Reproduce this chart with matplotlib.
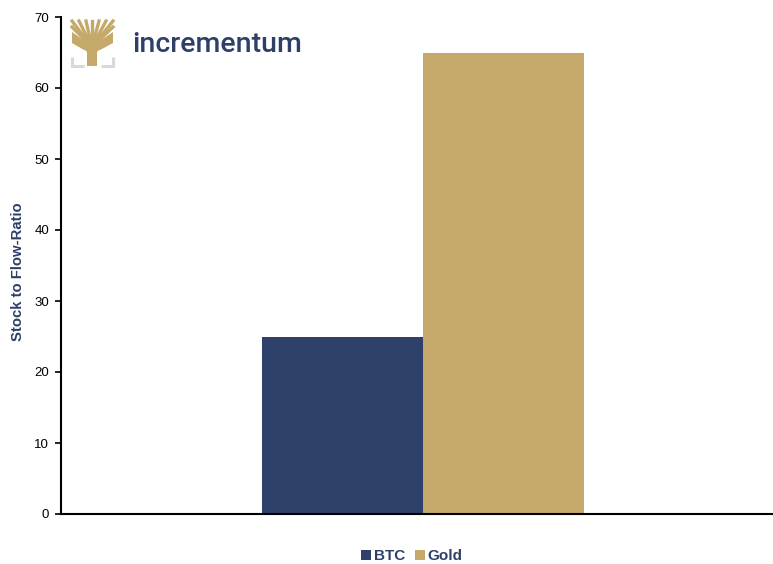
import matplotlib
matplotlib.use("Agg")
import matplotlib.pyplot as plt
from matplotlib.patches import Polygon
from matplotlib.lines import Line2D

plt.rcParams['font.family'] = ['Liberation Sans', 'DejaVu Sans']

series = ["BTC", "Gold"]
values = [25, 65]
colors = ["#2E416A", "#C4A96B"]
yticks = [0, 10, 20, 30, 40, 50, 60, 70]
ylabel = "Stock to Flow-Ratio"
navy = "#2E3F68"

W, H = 773, 564
fig = plt.figure(figsize=(W / 100, H / 100), dpi=100)
ax = fig.add_axes([61 / W, 50 / H, 712 / W, 497 / H])

w = 0.2
offsets = [-w / 2, w / 2]
for s, v, c, o in zip(series, values, colors, offsets):
    ax.bar(o, v, width=w, color=c, label=s)

ax.set_xlim(-0.4497, 0.4348)
ax.set_ylim(0, 70)
ax.set_yticks(yticks)
ax.set_xticks([])
ax.tick_params(axis='y', direction='out', length=4, width=1.2, labelsize=9.5, pad=4.5, colors='black')
for sp in ['top', 'right']:
    ax.spines[sp].set_visible(False)
ax.spines['left'].set_linewidth(1.5)
ax.spines['bottom'].set_linewidth(1.5)
fig.text(18 / W, 1 - 272 / H, ylabel, rotation=90, ha='center', va='center',
         fontsize=10.7, fontweight='bold', color=navy)

# legend
leg = fig.legend(loc='center', bbox_to_anchor=(412 / W, 1 - 556 / H), ncol=2, frameon=False,
                 handlelength=0.65, handleheight=0.65, handletextpad=0.2, columnspacing=0.6,
                 borderpad=0.1, prop={'size': 11, 'weight': 'bold'})
for t in leg.get_texts():
    t.set_color(navy)

# logo
def px(x, y):
    return (x / W, 1 - y / H)

gold = "#C4A96B"
gray = "#D9D9D9"
for pts in ([(72, 57), (72, 66), (84, 66)], [(113, 57), (113, 66), (101, 66)]):
    xs = [px(*p)[0] for p in pts]
    ys = [px(*p)[1] for p in pts]
    fig.add_artist(Line2D(xs, ys, color=gray, lw=2.2, solid_capstyle='butt', solid_joinstyle='miter'))
fig.add_artist(Polygon([px(87, 66), px(97, 66), px(97, 52), px(104, 45), px(80, 45), px(87, 52)],
                       closed=True, color=gold, lw=0))
fig.add_artist(Polygon([px(72, 32), px(92, 46), px(113, 32), px(113, 43), px(100, 50), px(84, 50), px(72, 43)],
                       closed=True, color=gold, lw=0))
branches = [
    [(92, 47), (72, 21)], [(92, 47), (79, 21)], [(92, 47), (86, 21)],
    [(92, 47), (92, 21)], [(92, 47), (99, 21)], [(92, 47), (106, 21)],
    [(92, 47), (113, 21)], [(92, 47), (72, 27)], [(92, 47), (113, 27)],
]
for a, b in branches:
    fig.add_artist(Line2D([px(*a)[0], px(*b)[0]], [px(*a)[1], px(*b)[1]], color=gold, lw=2.4))
fig.text(132 / W, 1 - 45 / H, "incrementum", ha='left', va='center', fontsize=20.5,
         color=navy, family=['Roboto', 'DejaVu Sans'], fontweight='medium')

fig.savefig("out.png", dpi=100)
